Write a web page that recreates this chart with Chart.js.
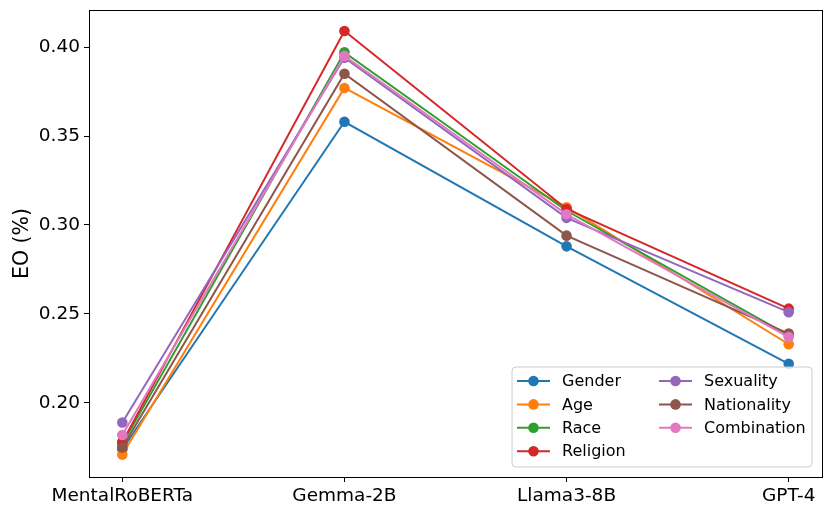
<!DOCTYPE html>
<html>
<head>
<meta charset="utf-8">
<script src="https://cdn.jsdelivr.net/npm/chart.js@4.4.0/dist/chart.umd.min.js"></script>
<style>
  html, body { margin: 0; padding: 0; background: #fff; }
  #wrap { width: 831px; height: 514px; }
</style>
</head>
<body>
<div id="wrap"><canvas id="myChart" width="831" height="514"></canvas></div>
<script>
// data
var models = ["MentalRoBERTa", "Gemma-2B", "Llama3-8B", "GPT-4"];
var yTicks = [0.20, 0.25, 0.30, 0.35, 0.40];

var gender      = [0.174, 0.358, 0.288, 0.222];
var age         = [0.171, 0.377, 0.310, 0.233];
var race        = [0.177, 0.397, 0.308, 0.238];
var religion    = [0.178, 0.409, 0.309, 0.253];
var sexuality   = [0.189, 0.394, 0.304, 0.251];
var nationality = [0.175, 0.385, 0.294, 0.239];
var combination = [0.182, 0.395, 0.306, 0.237];

var seriesNames = ["Gender", "Age", "Race", "Religion", "Sexuality", "Nationality", "Combination"];
var seriesData = [gender, age, race, religion, sexuality, nationality, combination];
var colors = ["#1f77b4", "#ff7f0e", "#2ca02c", "#d62728", "#9467bd", "#8c564b", "#e377c2"];

var FONT = "'DejaVu Sans', sans-serif";

var datasets = seriesNames.map(function (name, i) {
  return {
    label: name,
    data: seriesData[i].map(function (v, j) { return { x: j, y: v }; }),
    borderColor: colors[i],
    backgroundColor: colors[i],
    borderWidth: 2,
    pointRadius: 5.3,
    pointHoverRadius: 5.3,
    pointBorderWidth: 0,
    tension: 0,
    order: -i  // later series on top, like matplotlib
  };
});

// frame around the plot area + legend box in two columns
var framePlugin = {
  id: "frame",
  afterDraw: function (chart) {
    var ctx = chart.ctx;
    var a = chart.chartArea;
    ctx.save();
    ctx.strokeStyle = "#000";
    ctx.lineWidth = 1;
    ctx.strokeRect(Math.round(a.left) + 0.5, Math.round(a.top) + 0.5,
      Math.round(a.right - a.left), Math.round(a.bottom - a.top));

    // legend
    var bx = 512, by = 367, bw = 300, bh = 100, r = 4;
    ctx.beginPath();
    ctx.moveTo(bx + r, by);
    ctx.arcTo(bx + bw, by, bx + bw, by + bh, r);
    ctx.arcTo(bx + bw, by + bh, bx, by + bh, r);
    ctx.arcTo(bx, by + bh, bx, by, r);
    ctx.arcTo(bx, by, bx + bw, by, r);
    ctx.closePath();
    ctx.fillStyle = "rgba(255,255,255,0.8)";
    ctx.fill();
    ctx.strokeStyle = "#cccccc";
    ctx.lineWidth = 1;
    ctx.stroke();

    ctx.font = "16px " + FONT;
    ctx.textBaseline = "middle";
    ctx.textAlign = "left";
    chart.data.datasets.forEach(function (ds, i) {
      var col = i < 4 ? 0 : 1;
      var row = i < 4 ? i : i - 4;
      var x0 = col === 0 ? 517 : 659;
      var y = 381 + row * 23.4;
      ctx.strokeStyle = ds.borderColor;
      ctx.lineWidth = 2;
      ctx.beginPath();
      ctx.moveTo(x0, y);
      ctx.lineTo(x0 + 33, y);
      ctx.stroke();
      ctx.fillStyle = ds.borderColor;
      ctx.beginPath();
      ctx.arc(x0 + 16.5, y, 5.3, 0, Math.PI * 2);
      ctx.fill();
      ctx.fillStyle = "#000";
      ctx.fillText(ds.label, x0 + 45, y + 1);
    });
    ctx.restore();
  }
};

var chart = new Chart(document.getElementById("myChart").getContext("2d"), {
  type: "line",
  data: { datasets: datasets },
  options: {
    responsive: false,
    animation: false,
    layout: { padding: { left: 0, right: 9, top: 10, bottom: 0 } },
    plugins: {
      legend: { display: false },
      tooltip: { enabled: false }
    },
    scales: {
      x: {
        type: "linear",
        min: -0.15,
        max: 3.15,
        afterBuildTicks: function (scale) {
          scale.ticks = models.map(function (m, i) { return { value: i }; });
        },
        afterFit: function (scale) {
          scale.height = 37;
          scale.paddingLeft = 0;
          scale.paddingRight = 0;
        },
        ticks: {
          color: "#000",
          font: { family: FONT, size: 18.5 },
          padding: 3,
          maxRotation: 0,
          autoSkip: false,
          callback: function (v) { return models[v]; }
        },
        grid: { drawOnChartArea: false, drawTicks: true, tickLength: 5, color: "#000", lineWidth: 1 },
        border: { display: true, color: "#000", width: 1 }
      },
      y: {
        type: "linear",
        min: 0.1584,
        max: 0.4208,
        afterBuildTicks: function (scale) {
          scale.ticks = yTicks.map(function (v) { return { value: v }; });
        },
        afterFit: function (scale) {
          scale.width = 89;
          scale.paddingTop = 0;
          scale.paddingBottom = 0;
        },
        ticks: {
          color: "#000",
          font: { family: FONT, size: 18.5 },
          padding: 4,
          callback: function (v) { return Number(v).toFixed(2); }
        },
        grid: { drawOnChartArea: false, drawTicks: true, tickLength: 5, color: "#000", lineWidth: 1 },
        border: { display: true, color: "#000", width: 1 },
        title: {
          display: true,
          text: "EO (%)",
          color: "#000",
          font: { family: FONT, size: 20.5 },
          padding: { top: 10, bottom: 0 }
        }
      }
    }
  },
  plugins: [framePlugin]
});
</script>
</body>
</html>
